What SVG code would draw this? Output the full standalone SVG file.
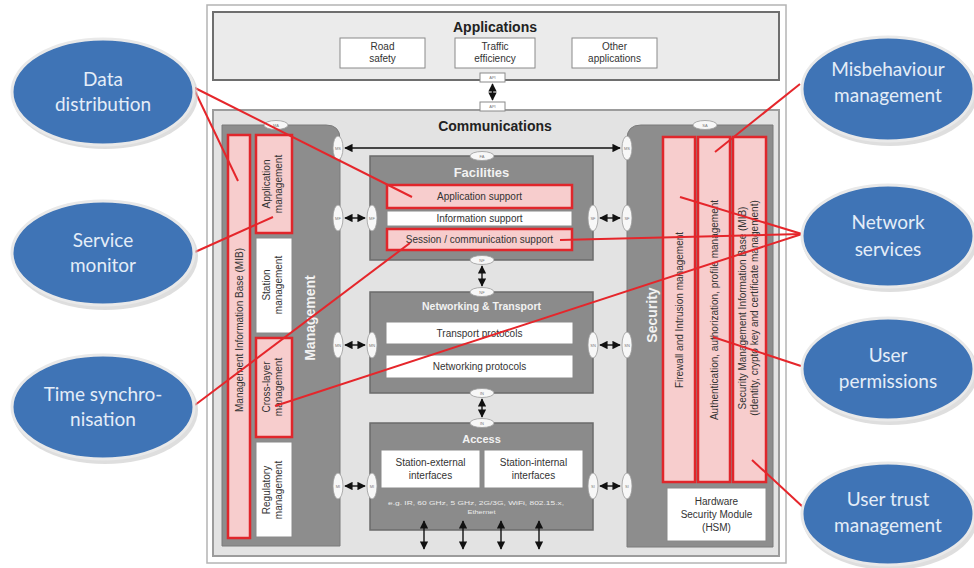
<svg xmlns="http://www.w3.org/2000/svg" width="974" height="568" viewBox="0 0 974 568">
  <defs>
    <marker id="ah" viewBox="0 0 10 10" refX="9" refY="5" markerWidth="6" markerHeight="6" orient="auto-start-reverse">
      <path d="M0,0 L10,5 L0,10 Z" fill="#111"/>
    </marker>
  </defs>
  <style>
    .frame { fill: #ffffff; stroke: #b4b4b4; stroke-width: 1.5; }
    .apps { fill: #ebebeb; stroke: #6e6e6e; stroke-width: 2; }
    .comm { fill: #e3e3e3; stroke: #9c9c9c; stroke-width: 2; }
    .wbox { fill: #ffffff; stroke: #8a8a8a; stroke-width: 1; }
    .pbox { fill: #f7cdcd; stroke: #e0262b; stroke-width: 2.5; }
    .pillar { fill: #8d8d8d; stroke: #7a7a7a; stroke-width: 1; }
    .layer { fill: #8b8b8b; stroke: #6b6b6b; stroke-width: 1.5; }
    .port { fill: #f7f7f7; stroke: #9a9a9a; stroke-width: 0.8; }
    .lbl { font-family: "Liberation Sans", Arial, sans-serif; font-size: 10px; fill: #333; text-anchor: middle; }
    .note { font-family: "Liberation Sans", Arial, sans-serif; font-size: 6.2px; fill: #ececec; text-anchor: middle; }
    .tiny { font-family: "Liberation Sans", Arial, sans-serif; font-size: 4px; fill: #777; text-anchor: middle; dominant-baseline: central; }
    .title { font-family: "Liberation Sans", Arial, sans-serif; font-size: 14px; font-weight: bold; fill: #222; text-anchor: middle; }
    .wtitle { font-family: "Liberation Sans", Arial, sans-serif; font-weight: bold; fill: #f2f2f2; text-anchor: middle; }
    .arrow { stroke: #111; stroke-width: 1.4; fill: none; marker-start: url(#ah); marker-end: url(#ah); }
    .bubble { fill: #3f74b6; stroke: #e9e9e9; stroke-width: 3; }
    .shadow { fill: #c8c8c8; opacity: 0.6; }
    .btxt { font-family: Lato, "Open Sans", sans-serif; font-size: 19px; fill: #e4edf8; text-anchor: middle; }
    .red { stroke: #e5262b; stroke-width: 2; fill: none; }
  </style>

  <!-- outer frame -->
  <rect class="frame" x="207" y="5" width="579" height="558"/>

  <!-- Applications layer -->
  <g id="applications">
    <rect class="apps" x="213" y="12" width="566" height="68"/>
    <text class="title" x="495" y="32">Applications</text>
    <rect class="wbox" x="340" y="38" width="85" height="30"/>
    <text class="lbl" x="382.5" y="50">Road</text>
    <text class="lbl" x="382.5" y="62">safety</text>
    <rect class="wbox" x="455" y="38" width="80" height="30"/>
    <text class="lbl" x="495" y="50">Traffic</text>
    <text class="lbl" x="495" y="62">efficiency</text>
    <rect class="wbox" x="572" y="38" width="85" height="30"/>
    <text class="lbl" x="614.5" y="50">Other</text>
    <text class="lbl" x="614.5" y="62">applications</text>
    <rect class="wbox" x="480" y="73" width="25" height="9"/>
    <text class="tiny" x="492.5" y="77.5">API</text>
  </g>

  <!-- Communications container -->
  <g id="communications">
    <rect class="comm" x="213" y="110" width="566" height="446"/>
    <rect class="wbox" x="480" y="102" width="25" height="9"/>
    <text class="tiny" x="492.5" y="106.5">API</text>
    <text class="title" x="495" y="131">Communications</text>
  </g>

  <!-- Management pillar -->
  <g id="management">
    <path class="pillar" d="M222,125 H326 Q340,125 340,139 V546 H222 Z"/>
    <text class="wtitle" font-size="14" transform="rotate(-90 310 318)" x="310" y="318" dominant-baseline="central">Management</text>
    <ellipse class="port" cx="276" cy="125" rx="12" ry="4.5"/>
    <text class="tiny" x="276" y="125">MA</text>
    <rect class="pbox" x="228" y="135" width="22" height="403"/>
    <text class="lbl" font-size="11" transform="rotate(-90 239 330)" x="239" y="330" dominant-baseline="central">Management Information Base (MIB)</text>
    <rect class="pbox" x="256" y="135" width="36" height="98"/>
    <text class="lbl" transform="rotate(-90 274 184)" x="274" y="180">Application</text>
    <text class="lbl" transform="rotate(-90 274 184)" x="274" y="192">management</text>
    <rect class="wbox" x="256" y="238" width="36" height="95"/>
    <text class="lbl" transform="rotate(-90 274 285)" x="274" y="281">Station</text>
    <text class="lbl" transform="rotate(-90 274 285)" x="274" y="293">management</text>
    <rect class="pbox" x="256" y="338" width="36" height="99"/>
    <text class="lbl" transform="rotate(-90 274 387)" x="274" y="383">Cross-layer</text>
    <text class="lbl" transform="rotate(-90 274 387)" x="274" y="395">management</text>
    <rect class="wbox" x="256" y="442" width="36" height="95"/>
    <text class="lbl" transform="rotate(-90 274 490)" x="274" y="486">Regulatory</text>
    <text class="lbl" transform="rotate(-90 274 490)" x="274" y="498">management</text>
    <ellipse class="port" cx="338" cy="148" rx="5" ry="12"/>
    <text class="tiny" x="338" y="148">MS</text>
    <ellipse class="port" cx="338" cy="218" rx="5" ry="13"/>
    <text class="tiny" x="338" y="218">MF</text>
    <ellipse class="port" cx="338" cy="345" rx="5" ry="13"/>
    <text class="tiny" x="338" y="345">MN</text>
    <ellipse class="port" cx="338" cy="486" rx="5" ry="13"/>
    <text class="tiny" x="338" y="486">MI</text>
  </g>

  <!-- Security pillar -->
  <g id="security">
    <path class="pillar" d="M641,125 H773 V547 H627 V139 Q627,125 641,125 Z"/>
    <text class="wtitle" font-size="14" transform="rotate(-90 652 315)" x="652" y="315" dominant-baseline="central">Security</text>
    <ellipse class="port" cx="705" cy="125" rx="12" ry="4.5"/>
    <text class="tiny" x="705" y="125">SA</text>
    <rect class="pbox" x="663" y="137" width="32" height="345"/>
    <text class="lbl" font-size="10.5" transform="rotate(-90 679 310)" x="679" y="310" dominant-baseline="central">Firewall and Intrusion management</text>
    <rect class="pbox" x="698" y="137" width="32" height="345"/>
    <text class="lbl" font-size="10.5" transform="rotate(-90 714 310)" x="714" y="310" dominant-baseline="central">Authentication, authorization, profile management</text>
    <rect class="pbox" x="733" y="137" width="33" height="345"/>
    <text class="lbl" font-size="10.5" transform="rotate(-90 749.5 308)" x="749.5" y="304">Security Management Information Base (MIB)</text>
    <text class="lbl" font-size="10.5" transform="rotate(-90 749.5 308)" x="749.5" y="316">(Identity, crypto key and certificate management)</text>
    <rect class="wbox" x="667" y="488" width="99" height="53"/>
    <text class="lbl" font-size="10.5" x="716.5" y="505">Hardware</text>
    <text class="lbl" font-size="10.5" x="716.5" y="518">Security Module</text>
    <text class="lbl" font-size="10.5" x="716.5" y="531">(HSM)</text>
    <ellipse class="port" cx="627" cy="148" rx="5" ry="12"/>
    <text class="tiny" x="627" y="148">MS</text>
    <ellipse class="port" cx="627" cy="218" rx="5" ry="13"/>
    <text class="tiny" x="627" y="218">SF</text>
    <ellipse class="port" cx="627" cy="345" rx="5" ry="13"/>
    <text class="tiny" x="627" y="345">SN</text>
    <ellipse class="port" cx="627" cy="486" rx="5" ry="13"/>
    <text class="tiny" x="627" y="486">SI</text>
  </g>

  <!-- Facilities layer -->
  <g id="facilities">
    <rect class="layer" x="370" y="156" width="223" height="104"/>
    <text class="wtitle" font-size="13" x="481.5" y="177">Facilities</text>
    <rect class="pbox" x="387" y="185" width="185" height="23"/>
    <text class="lbl" x="479.5" y="200">Application support</text>
    <rect class="wbox" x="387" y="211" width="185" height="15"/>
    <text class="lbl" x="479.5" y="222">Information support</text>
    <rect class="pbox" x="387" y="229" width="185" height="21"/>
    <text class="lbl" x="479.5" y="243">Session / communication support</text>
    <ellipse class="port" cx="482" cy="156" rx="12" ry="4.5"/>
    <text class="tiny" x="482" y="156">FA</text>
    <ellipse class="port" cx="482" cy="260" rx="12" ry="4.5"/>
    <text class="tiny" x="482" y="260">NF</text>
    <ellipse class="port" cx="372" cy="218" rx="5" ry="13"/>
    <text class="tiny" x="372" y="218">MF</text>
    <ellipse class="port" cx="593" cy="218" rx="5" ry="13"/>
    <text class="tiny" x="593" y="218">SF</text>
  </g>

  <!-- Networking & Transport layer -->
  <g id="networking">
    <rect class="layer" x="370" y="292" width="223" height="101"/>
    <text class="wtitle" font-size="10.5" x="481.5" y="310">Networking &amp; Transport</text>
    <rect class="wbox" x="386" y="322" width="187" height="22"/>
    <text class="lbl" font-size="10.5" x="479.5" y="337">Transport protocols</text>
    <rect class="wbox" x="386" y="355" width="187" height="23"/>
    <text class="lbl" font-size="10.5" x="479.5" y="370">Networking protocols</text>
    <ellipse class="port" cx="482" cy="292" rx="12" ry="4.5"/>
    <text class="tiny" x="482" y="292">NF</text>
    <ellipse class="port" cx="482" cy="393" rx="12" ry="4.5"/>
    <text class="tiny" x="482" y="393">IN</text>
    <ellipse class="port" cx="372" cy="345" rx="5" ry="13"/>
    <text class="tiny" x="372" y="345">MN</text>
    <ellipse class="port" cx="593" cy="345" rx="5" ry="13"/>
    <text class="tiny" x="593" y="345">SN</text>
  </g>

  <!-- Access layer -->
  <g id="access">
    <rect class="layer" x="370" y="423" width="223" height="107"/>
    <text class="wtitle" font-size="11" x="481.5" y="443" font-weight="normal">Access</text>
    <rect class="wbox" x="381" y="450" width="99" height="38"/>
    <text class="lbl" font-size="10.5" x="430.5" y="466">Station-external</text>
    <text class="lbl" font-size="10.5" x="430.5" y="479">interfaces</text>
    <rect class="wbox" x="484" y="450" width="99" height="38"/>
    <text class="lbl" font-size="10.5" x="533.5" y="466">Station-internal</text>
    <text class="lbl" font-size="10.5" x="533.5" y="479">interfaces</text>
    <text class="note" x="476" y="505" textLength="176" lengthAdjust="spacingAndGlyphs">e.g. IR, 60 GHz, 5 GHz, 2G/3G, WiFi, 802.15.x,</text>
    <text class="note" x="481.5" y="514" textLength="28" lengthAdjust="spacingAndGlyphs">Ethernet</text>
    <ellipse class="port" cx="482" cy="423" rx="12" ry="4.5"/>
    <text class="tiny" x="482" y="423">IN</text>
    <ellipse class="port" cx="372" cy="486" rx="5" ry="13"/>
    <text class="tiny" x="372" y="486">MI</text>
    <ellipse class="port" cx="593" cy="486" rx="5" ry="13"/>
    <text class="tiny" x="593" y="486">SI</text>
  </g>

  <!-- black interface arrows -->
  <g id="interfaces">
    <line class="arrow" x1="492.5" y1="84" x2="492.5" y2="100"/>
    <line class="arrow" x1="345" y1="148" x2="620" y2="148"/>
    <line class="arrow" x1="345" y1="218" x2="365" y2="218"/>
    <line class="arrow" x1="600" y1="218" x2="620" y2="218"/>
    <line class="arrow" x1="345" y1="345" x2="365" y2="345"/>
    <line class="arrow" x1="600" y1="345" x2="620" y2="345"/>
    <line class="arrow" x1="345" y1="486" x2="365" y2="486"/>
    <line class="arrow" x1="600" y1="486" x2="620" y2="486"/>
    <line class="arrow" x1="482" y1="266" x2="482" y2="286"/>
    <line class="arrow" x1="482" y1="399" x2="482" y2="417"/>
    <line class="arrow" x1="424" y1="521" x2="424" y2="549"/>
    <line class="arrow" x1="463" y1="521" x2="463" y2="549"/>
    <line class="arrow" x1="501" y1="521" x2="501" y2="549"/>
    <line class="arrow" x1="539" y1="521" x2="539" y2="549"/>
  </g>

  <!-- red callout connectors -->
  <g id="connectors">
    <line class="red" x1="193" y1="87" x2="238" y2="181"/>
    <line class="red" x1="193" y1="87" x2="412" y2="197"/>
    <line class="red" x1="195" y1="252" x2="273" y2="217"/>
    <line class="red" x1="195" y1="405" x2="410" y2="243"/>
    <line class="red" x1="800" y1="84" x2="715" y2="152"/>
    <line class="red" x1="802" y1="234" x2="680" y2="197"/>
    <line class="red" x1="802" y1="234" x2="560" y2="240"/>
    <line class="red" x1="802" y1="234" x2="275" y2="406"/>
    <line class="red" x1="801" y1="366" x2="713" y2="337"/>
    <line class="red" x1="804" y1="508" x2="752" y2="460"/>
  </g>

  <!-- callout bubbles -->
  <g id="data-distribution">
    <ellipse class="shadow" cx="105" cy="95" rx="93" ry="54"/>
    <ellipse class="bubble" cx="103" cy="92" rx="91" ry="53"/>
    <text class="btxt" x="103" y="86">Data</text>
    <text class="btxt" x="103" y="111">distribution</text>
  </g>
  <g id="service-monitor">
    <ellipse class="shadow" cx="105" cy="256" rx="93" ry="54"/>
    <ellipse class="bubble" cx="103" cy="253" rx="91" ry="52"/>
    <text class="btxt" x="103" y="247">Service</text>
    <text class="btxt" x="103" y="272">monitor</text>
  </g>
  <g id="time-synchronisation">
    <ellipse class="shadow" cx="105" cy="410" rx="93" ry="54"/>
    <ellipse class="bubble" cx="103" cy="407" rx="91" ry="52"/>
    <text class="btxt" x="103" y="401">Time synchro-</text>
    <text class="btxt" x="103" y="426">nisation</text>
  </g>
  <g id="misbehaviour-management">
    <ellipse class="shadow" cx="890" cy="92" rx="88" ry="54"/>
    <ellipse class="bubble" cx="888" cy="89" rx="86" ry="52"/>
    <text class="btxt" x="888" y="76">Misbehaviour</text>
    <text class="btxt" x="888" y="102">management</text>
  </g>
  <g id="network-services">
    <ellipse class="shadow" cx="890" cy="239" rx="88" ry="53"/>
    <ellipse class="bubble" cx="888" cy="236" rx="86" ry="51"/>
    <text class="btxt" x="888" y="229">Network</text>
    <text class="btxt" x="888" y="256">services</text>
  </g>
  <g id="user-permissions">
    <ellipse class="shadow" cx="890" cy="372" rx="88" ry="53"/>
    <ellipse class="bubble" cx="888" cy="369" rx="86" ry="51"/>
    <text class="btxt" x="888" y="362">User</text>
    <text class="btxt" x="888" y="388">permissions</text>
  </g>
  <g id="user-trust-management">
    <ellipse class="shadow" cx="890" cy="517" rx="88" ry="53"/>
    <ellipse class="bubble" cx="888" cy="514" rx="86" ry="51"/>
    <text class="btxt" x="888" y="506">User trust</text>
    <text class="btxt" x="888" y="532">management</text>
  </g>
</svg>
